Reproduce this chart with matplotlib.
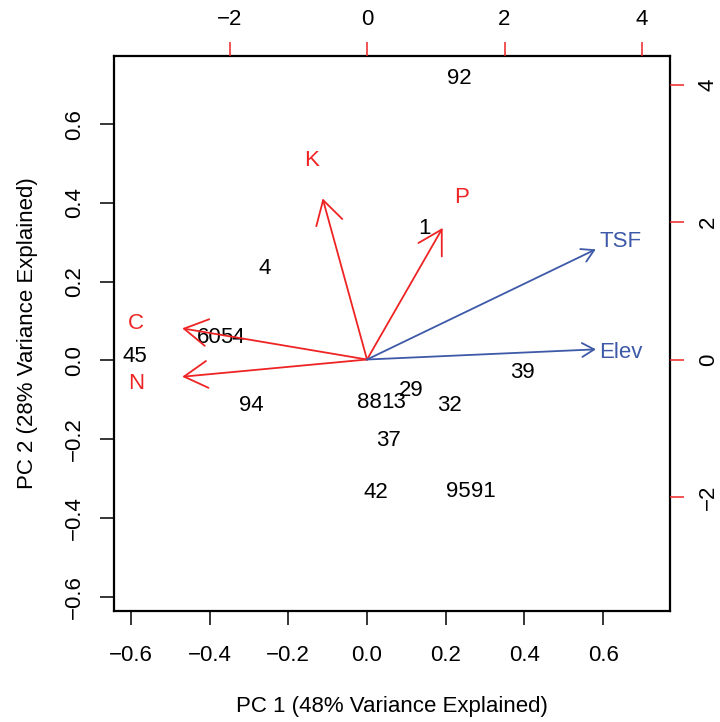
import matplotlib
matplotlib.use("Agg")
import matplotlib.pyplot as plt
from matplotlib.patches import FancyArrowPatch

plt.rcParams['font.family'] = ['Liberation Sans', 'DejaVu Sans']

# site scores on PC1 / PC2 (bottom / left axes)
site_labels = ['92', '1', '4', '60', '54', '45', '94', '88', '13',
               '29', '32', '39', '37', '42', '95', '91']
site_pc1 = [0.234, 0.145, -0.259, -0.400, -0.343, -0.589, -0.295, 0.007, 0.069,
            0.112, 0.210, 0.395, 0.055, 0.023, 0.233, 0.295]
site_pc2 = [0.722, 0.341, 0.239, 0.065, 0.065, 0.017, -0.108, -0.100, -0.100,
            -0.069, -0.108, -0.024, -0.198, -0.330, -0.326, -0.326]

# soil loadings (top / right axes), arrows drawn to 0.8 of the label position
soil_names = ['K', 'P', 'C', 'N']
soil_x = [-0.807, 1.375, -3.36, -3.36]
soil_y = [2.93, 2.393, 0.567, -0.313]

# environmental vectors fitted afterwards
env_names = ['TSF', 'Elev']
env_x = [3.327, 3.33]
env_y = [1.603, 0.148]
env_lab_x = [3.375, 3.375]
env_lab_y = [1.753, 0.138]

x_ticks = [-0.6, -0.4, -0.2, 0.0, 0.2, 0.4, 0.6]
y_ticks = [-0.6, -0.4, -0.2, 0.0, 0.2, 0.4, 0.6]
top_ticks = [-2, 0, 2, 4]
right_ticks = [-2, 0, 2, 4]

RED = '#EE2424'
BLUE = '#3D59A8'
FS = 16


def fmt(v, nd):
    return ('%.*f' % (nd, v)).replace('-', '\u2212')


def draw_vector(ax, x, y, color, head):
    style = '->,head_length=%.2f,head_width=%.2f' % (head * 0.866, head * 0.5)
    arr = FancyArrowPatch((0, 0), (x, y), arrowstyle=style, color=color, lw=1.3,
                          shrinkA=0, shrinkB=0, mutation_scale=1,
                          capstyle='round', joinstyle='round')
    ax.add_patch(arr)


fig = plt.figure(figsize=(7.2, 7.22), dpi=100)
pos = [114 / 720, 1 - 611 / 722, 556 / 720, 555 / 722]

# primary axes: site scores
ax = fig.add_axes(pos)
ax.set_xlim(-0.643, 0.770)
ax.set_ylim(-0.636, 0.773)
for lab, x, y in zip(site_labels, site_pc1, site_pc2):
    ax.text(x, y, lab, ha='center', va='center_baseline', fontsize=FS, color='black')

ax.set_xticks(x_ticks)
ax.set_xticklabels([fmt(v, 1) for v in x_ticks])
ax.set_yticks(y_ticks)
ax.set_yticklabels([fmt(v, 1) for v in y_ticks])
ax.tick_params(direction='out', length=10, width=1.1, labelsize=FS)
ax.tick_params(axis='x', pad=14.5)
ax.tick_params(axis='y', labelrotation=90, pad=11)
for t in ax.get_yticklabels():
    t.set_va('center')
for sp in ax.spines.values():
    sp.set_linewidth(1.6)

# secondary axes: loadings
ax2 = fig.add_axes(pos)
ax2.patch.set_visible(False)
ax2.set_xlim(-3.68, 4.407)
ax2.set_ylim(-3.658, 4.415)
for sp in ax2.spines.values():
    sp.set_visible(False)

for name, x, y in zip(soil_names, soil_x, soil_y):
    draw_vector(ax2, 0.8 * x, 0.8 * y, RED, 19.4)
    ax2.text(x, y, name, ha='center', va='center_baseline', fontsize=FS, color=RED)

for name, x, y, lx, ly in zip(env_names, env_x, env_y, env_lab_x, env_lab_y):
    draw_vector(ax2, x, y, BLUE, 10.0)
    ax2.text(lx, ly, name, ha='left', va='center_baseline', fontsize=FS, color=BLUE)

ax2.xaxis.tick_top()
ax2.yaxis.tick_right()
ax2.set_xticks(top_ticks)
ax2.set_xticklabels([fmt(v, 0) for v in top_ticks])
ax2.set_yticks(right_ticks)
ax2.set_yticklabels([fmt(v, 0) for v in right_ticks])
ax2.tick_params(direction='out', length=10, width=1.1, color=RED, labelcolor='black',
                labelsize=FS)
ax2.tick_params(axis='x', pad=9)
ax2.tick_params(axis='y', labelrotation=90, pad=10)
for t in ax2.get_yticklabels():
    t.set_va('center')

fig.text(392 / 720, 1 - 706.3 / 722, 'PC 1 (48% Variance Explained)',
         ha='center', va='center', fontsize=FS)
fig.text(27.3 / 720, 1 - 333.5 / 722, 'PC 2 (28% Variance Explained)',
         ha='center', va='center', rotation=90, fontsize=FS)

fig.savefig('out.png', dpi=100)
